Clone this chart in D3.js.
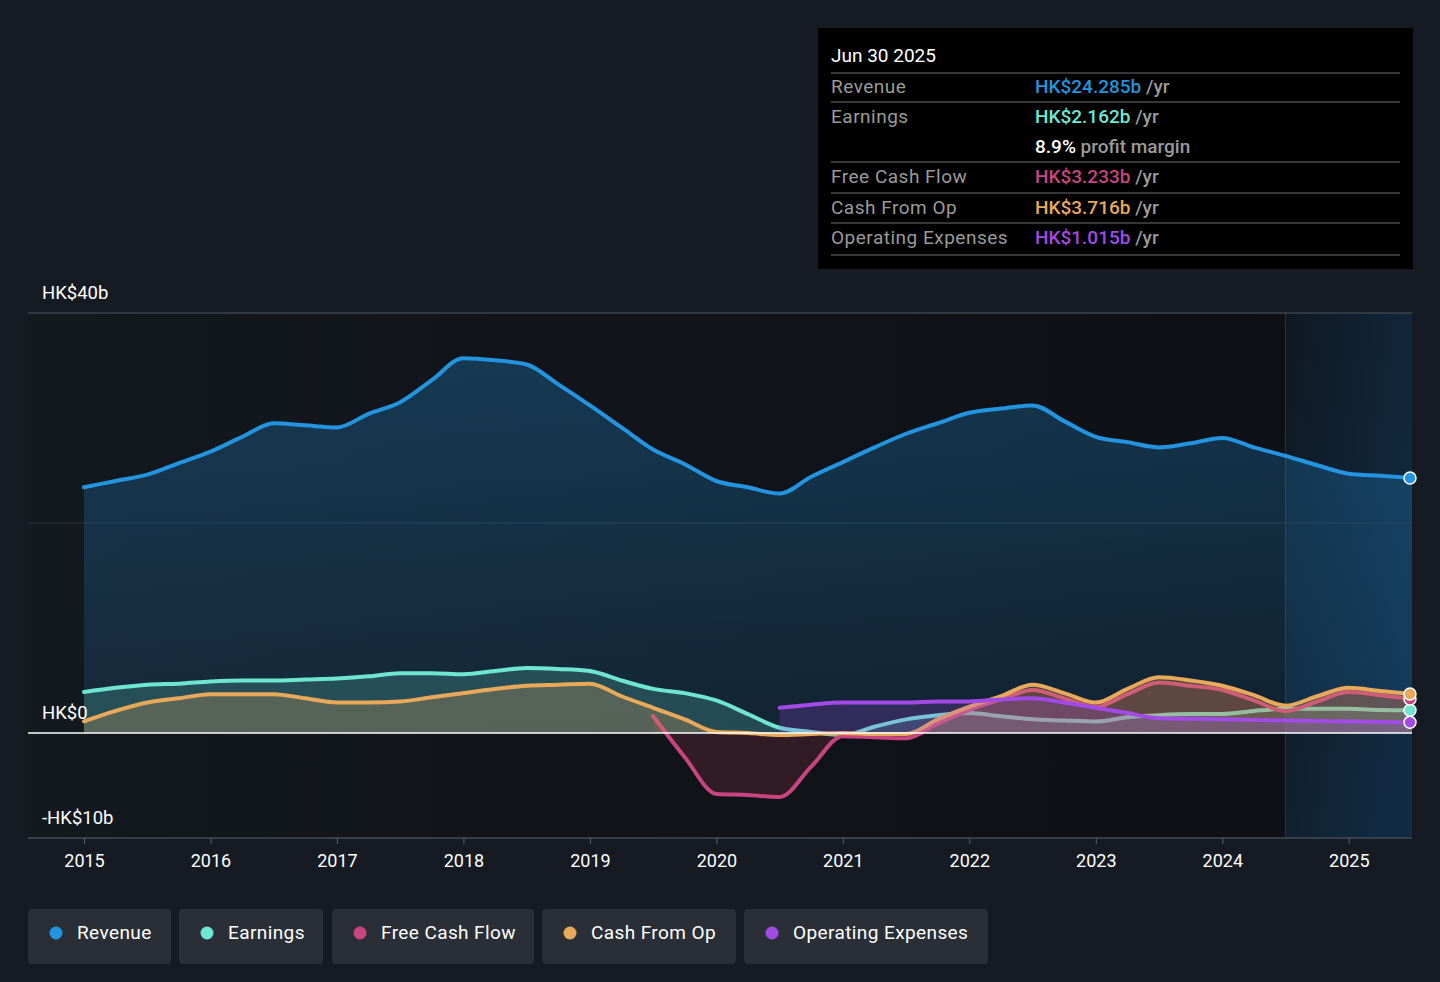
<!DOCTYPE html>
<html>
<head>
<meta charset="utf-8">
<script src="https://cdn.jsdelivr.net/npm/d3@7"></script>
<style>
  body { margin: 0; background: #151a23; font-family: Roboto, "Noto Sans", sans-serif; }
  #chart { width: 1440px; height: 982px; }
</style>
</head>
<body>
<div id="chart"></div>
<script>
const quarters = [2015, 2015.25, 2015.5, 2015.75, 2016, 2016.25, 2016.5, 2016.75, 2017, 2017.25, 2017.5, 2017.75,
  2018, 2018.25, 2018.5, 2018.75, 2019, 2019.25, 2019.5, 2019.75, 2020, 2020.25, 2020.5, 2020.75,
  2021, 2021.25, 2021.5, 2021.75, 2022, 2022.25, 2022.5, 2022.75, 2023, 2023.25, 2023.5, 2023.75,
  2024, 2024.25, 2024.5, 2024.75, 2025, 2025.25, 2025.5];

// values in HK$ billions, null = not reported
const revenue = [23.4, 24.0, 24.6, 25.7, 26.8, 28.2, 29.5, 29.3, 29.1, 30.4, 31.5, 33.6,
  35.7, 35.5, 35.1, 33.2, 31.2, 29.1, 27.0, 25.6, 24.0, 23.4, 22.8, 24.4,
  25.8, 27.2, 28.5, 29.5, 30.5, 30.9, 31.2, 29.7, 28.2, 27.7, 27.2, 27.6,
  28.1, 27.2, 26.4, 25.5, 24.7, 24.5, 24.285];
const earnings = [3.9, 4.3, 4.6, 4.7, 4.9, 5.0, 5.0, 5.1, 5.2, 5.4, 5.7, 5.7,
  5.6, 5.9, 6.2, 6.1, 5.9, 5.0, 4.2, 3.8, 3.1, 1.8, 0.5, 0.1,
  -0.2, 0.6, 1.3, 1.7, 1.9, 1.6, 1.3, 1.2, 1.1, 1.5, 1.7, 1.8,
  1.8, 2.1, 2.3, 2.3, 2.3, 2.2, 2.162];
const freeCashFlow = [null, null, null, null, null, null, null, null, null, null, null, null,
  null, null, null, null, null, null, 1.6, -2.3, -5.8, -5.9, -6.1, -3.2,
  -0.3, -0.4, -0.5, 0.9, 2.2, 3.2, 4.1, 3.3, 2.5, 3.7, 4.8, 4.5,
  4.1, 3.1, 2.1, 3.0, 3.9, 3.6, 3.233];
const cashFromOp = [1.1, 2.1, 2.9, 3.3, 3.7, 3.7, 3.7, 3.3, 2.9, 2.9, 3.0, 3.4,
  3.8, 4.2, 4.5, 4.6, 4.7, 3.5, 2.4, 1.3, 0.1, 0.0, -0.2, -0.1,
  0.0, -0.1, -0.1, 1.3, 2.5, 3.5, 4.6, 3.8, 2.9, 4.2, 5.3, 5.0,
  4.5, 3.6, 2.6, 3.5, 4.3, 4.0, 3.716];
const opex = [null, null, null, null, null, null, null, null, null, null, null, null,
  null, null, null, null, null, null, null, null, null, null, 2.4, 2.7,
  2.9, 2.9, 2.9, 3.0, 3.0, 3.2, 3.3, 2.9, 2.4, 1.9, 1.4, 1.35,
  1.3, 1.25, 1.2, 1.15, 1.1, 1.05, 1.015];

const years = [2015, 2016, 2017, 2018, 2019, 2020, 2021, 2022, 2023, 2024, 2025];
const yLabels = [[40, "HK$40b"], [0, "HK$0"], [-10, "-HK$10b"]];

const seriesNames = ["Revenue", "Earnings", "Free Cash Flow", "Cash From Op", "Operating Expenses"];
const seriesColors = ["#2394df", "#6ee6d2", "#c8457f", "#e8a95b", "#a24ae6"];
const fillColors = ["#2394df", "#6ee6d2", "#b83a55", "#e8a95b", "#a24ae6"];
const seriesValues = [revenue, earnings, freeCashFlow, cashFromOp, opex];

const tipRows = [
  ["Revenue", "HK$24.285b", " /yr"],
  ["Earnings", "HK$2.162b", " /yr"],
  ["", "8.9%", " profit margin"],
  ["Free Cash Flow", "HK$3.233b", " /yr"],
  ["Cash From Op", "HK$3.716b", " /yr"],
  ["Operating Expenses", "HK$1.015b", " /yr"]
];
const tipColors = ["#2394df", "#6ee6d2", "#ffffff", "#c8457f", "#e8a95b", "#a24ae6"];

const svg = d3.select("#chart").append("svg")
  .attr("width", 1440).attr("height", 982);

const x = d3.scaleLinear().domain([2015, 2025.5]).range([84, 1412]);
const y = d3.scaleLinear().domain([-10, 40]).range([838, 313]);

const defs = svg.append("defs");
const revGrad = defs.append("linearGradient").attr("id", "revGrad")
  .attr("gradientUnits", "userSpaceOnUse").attr("x1", 0).attr("y1", y(40)).attr("x2", 0).attr("y2", y(0));
revGrad.append("stop").attr("offset", 0).attr("stop-color", "#2394df").attr("stop-opacity", 0.3);
revGrad.append("stop").attr("offset", 1).attr("stop-color", "#2394df").attr("stop-opacity", 0.13);

const bgGrad = defs.append("linearGradient").attr("id", "bgGrad")
  .attr("x1", 0).attr("y1", 0).attr("x2", 1).attr("y2", 0);
bgGrad.append("stop").attr("offset", 0).attr("stop-color", "#14181f");
bgGrad.append("stop").attr("offset", 1).attr("stop-color", "#0d1015");

const fcGrad = defs.append("linearGradient").attr("id", "fcGrad")
  .attr("x1", 0).attr("y1", 0).attr("x2", 1).attr("y2", 0.6);
fcGrad.append("stop").attr("offset", 0).attr("stop-color", "#0f1822");
fcGrad.append("stop").attr("offset", 1).attr("stop-color", "#112b42");

// plot background
svg.append("rect")
  .attr("x", 28).attr("y", y(40)).attr("width", x(2024.5) - 28).attr("height", y(-10) - y(40))
  .attr("fill", "url(#bgGrad)");

// last 12 months band
svg.append("rect")
  .attr("x", x(2024.5)).attr("y", y(40)).attr("width", x(2025.5) - x(2024.5)).attr("height", y(-10) - y(40))
  .attr("fill", "url(#fcGrad)");
svg.append("line")
  .attr("x1", x(2024.5)).attr("x2", x(2024.5)).attr("y1", y(40)).attr("y2", y(-10))
  .attr("stroke", "#21384d").attr("stroke-width", 1);

// gridlines
svg.append("line").attr("x1", 28).attr("x2", 1412).attr("y1", y(40)).attr("y2", y(40))
  .attr("stroke", "#3d434d").attr("stroke-width", 1.5);
svg.append("line").attr("x1", 28).attr("x2", 1412).attr("y1", y(20)).attr("y2", y(20))
  .attr("stroke", "#2a313b").attr("stroke-width", 1);

const pts = vals => quarters.map((q, i) => ({ q: q, v: vals[i] }));

const area = d3.area()
  .defined(d => d.v !== null)
  .curve(d3.curveMonotoneX)
  .x(d => x(d.q)).y0(y(0)).y1(d => y(d.v));
const line = d3.line()
  .defined(d => d.v !== null)
  .curve(d3.curveMonotoneX)
  .x(d => x(d.q)).y(d => y(d.v));

const fillOpacity = [1, 0.2, 0.2, 0.25, 0.22];

seriesValues.forEach((vals, i) => {
  svg.append("path")
    .datum(pts(vals))
    .attr("d", area)
    .attr("fill", i === 0 ? "url(#revGrad)" : fillColors[i])
    .attr("fill-opacity", fillOpacity[i]);
  svg.append("path")
    .datum(pts(vals))
    .attr("d", line)
    .attr("fill", "none")
    .attr("stroke", seriesColors[i])
    .attr("stroke-width", 4)
    .attr("stroke-linejoin", "round")
    .attr("stroke-linecap", "round");
});

// zero line
svg.append("line").attr("x1", 28).attr("x2", 1412).attr("y1", y(0)).attr("y2", y(0))
  .attr("stroke", "#ffffff").attr("stroke-width", 1.5);

// end dots
seriesValues.forEach((vals, i) => {
  svg.append("circle")
    .attr("cx", x(2025.5) - 2).attr("cy", y(vals[vals.length - 1]))
    .attr("r", 6)
    .attr("fill", seriesColors[i])
    .attr("stroke", "#ffffff").attr("stroke-width", 1.5);
});

// x axis
svg.append("line").attr("x1", 28).attr("x2", 1412).attr("y1", y(-10)).attr("y2", y(-10))
  .attr("stroke", "#454b55").attr("stroke-width", 1.5);
const xAxis = svg.append("g")
  .attr("transform", "translate(0," + y(-10) + ")")
  .call(d3.axisBottom(x).tickValues(years).tickFormat(d3.format("d")).tickSize(6).tickPadding(10));
xAxis.select(".domain").remove();
xAxis.selectAll(".tick line").attr("stroke", "#5a606a");
xAxis.selectAll(".tick text")
  .attr("fill", "#ffffff")
  .style("font-family", "Roboto, sans-serif")
  .style("font-size", "18px");

// y labels
svg.selectAll(".ylab").data(yLabels).enter().append("text")
  .attr("x", 42).attr("y", d => y(d[0]) - 14)
  .attr("fill", "#ffffff")
  .style("font-size", "18.5px")
  .text(d => d[1]);

// tooltip box
const tip = svg.append("g").attr("transform", "translate(818,28)");
tip.append("rect").attr("width", 595).attr("height", 241).attr("fill", "#000000");
tip.append("text").attr("x", 13).attr("y", 34).attr("fill", "#ffffff")
  .style("font-size", "19px").text("Jun 30 2025");
const sepY = [45, 74, 134, 165, 195, 227];
sepY.forEach(s => {
  tip.append("line").attr("x1", 13).attr("x2", 582).attr("y1", s).attr("y2", s)
    .attr("stroke", "#4a4a4a").attr("stroke-width", 1.5);
});
const rowY = [65, 95, 125, 155, 186, 216];
tipRows.forEach((r, i) => {
  tip.append("text").attr("x", 13).attr("y", rowY[i]).attr("fill", "#9a9a9a")
    .style("font-size", "19px").style("letter-spacing", "0.5px").text(r[0]);
  const t = tip.append("text").attr("x", 217).attr("y", rowY[i]).style("font-size", "19px");
  t.append("tspan").attr("fill", tipColors[i]).style("font-weight", 500).text(r[1]);
  t.append("tspan").attr("fill", "#9a9a9a").style("font-weight", 500).text(r[2]);
});

// legend
const legX = [28, 179, 332, 542, 744];
const legW = [143, 144, 202, 194, 244];
seriesNames.forEach((name, i) => {
  const g = svg.append("g").attr("transform", "translate(" + legX[i] + ",909)");
  g.append("rect").attr("width", legW[i]).attr("height", 55).attr("rx", 4).attr("fill", "#2a2f37");
  g.append("circle").attr("cx", 28).attr("cy", 24).attr("r", 6.5).attr("fill", seriesColors[i]);
  g.append("text").attr("x", 49).attr("y", 30).attr("fill", "#ffffff")
    .style("font-size", "19px").style("letter-spacing", "0.4px").text(name);
});
</script>
</body>
</html>
